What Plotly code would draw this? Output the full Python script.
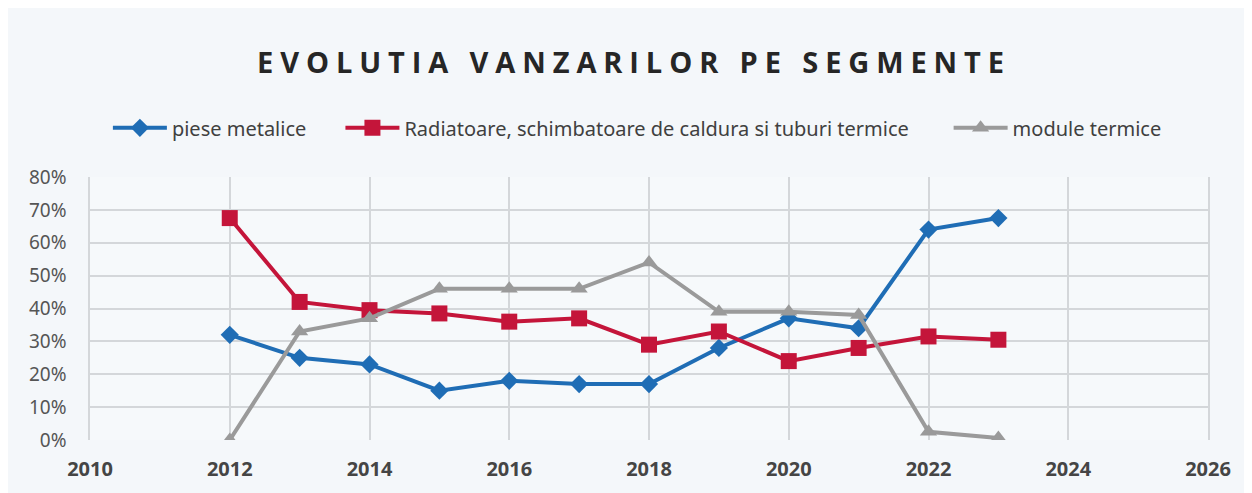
import plotly.graph_objects as go

years = [2012, 2013, 2014, 2015, 2016, 2017, 2018, 2019, 2020, 2021, 2022, 2023]
piese_metalice = [0.32, 0.25, 0.23, 0.15, 0.18, 0.17, 0.17, 0.28, 0.37, 0.34, 0.64, 0.675]
radiatoare = [0.675, 0.42, 0.395, 0.385, 0.36, 0.37, 0.29, 0.33, 0.24, 0.28, 0.315, 0.305]
module_termice = [0.0, 0.33, 0.37, 0.46, 0.46, 0.46, 0.54, 0.39, 0.39, 0.38, 0.025, 0.006]

names = ["piese metalice", "Radiatoare, schimbatoare de caldura si tuburi termice", "module termice"]
colors = ["#1f6db5", "#c4153a", "#9a9a9a"]
symbols = ["diamond", "square", "triangle-up"]
sizes = [14, 16, 15]
legend_ids = ["legend", "legend2", "legend3"]
legend_x = [0.016, 0.224, 0.768]

fig = go.Figure()
for vals, name, col, sym, sz, lg in zip([piese_metalice, radiatoare, module_termice], names, colors, symbols, sizes, legend_ids):
    fig.add_trace(go.Scatter(
        x=years, y=vals, name=name, mode="lines+markers", legend=lg,
        line=dict(color=col, width=4),
        marker=dict(symbol=sym, size=sz, color=col, line=dict(width=0)),
    ))

leg_common = dict(orientation="h", yanchor="middle", y=1.187, xanchor="left",
                  font=dict(family="Noto Sans", size=20, color="#404040"),
                  bgcolor="rgba(0,0,0,0)", itemwidth=54)

fig.update_layout(
    width=1252, height=493,
    paper_bgcolor="#f4f7fa", plot_bgcolor="#f6f9fb",
    margin=dict(l=82, r=52, t=169, b=61),
    title=dict(text='<span style="letter-spacing:6.9px"><b>EVOLUTIA VANZARILOR PE SEGMENTE</b></span>',
               x=0.5, xanchor="center", y=0.889, yanchor="middle",
               font=dict(family="Open Sans", size=29, color="#262626")),
    legend=dict(x=legend_x[0], **leg_common),
    legend2=dict(x=legend_x[1], **leg_common),
    legend3=dict(x=legend_x[2], **leg_common),
    showlegend=True,
    font=dict(family="Noto Sans"),
)
fig.update_xaxes(range=[2010, 2026], dtick=2, tick0=2010, showgrid=True,
                 gridcolor="#d4d7da", gridwidth=1.5, zeroline=False, showline=False,
                 tickfont=dict(family="Noto Sans", size=20, color="#454545", weight="bold"),
                 ticks="", ticklabelstandoff=15, mirror=True)
fig.update_yaxes(range=[0, 0.8], dtick=0.1, tickformat=".0%", showgrid=True,
                 gridcolor="#d4d7da", gridwidth=1.5, zeroline=False, showline=True,
                 linecolor="#d4d7da", linewidth=1.5, mirror=True,
                 tickfont=dict(family="Noto Sans", size=19, color="#555555"),
                 ticks="", ticklabelstandoff=18)

fig.write_html("out.html")
